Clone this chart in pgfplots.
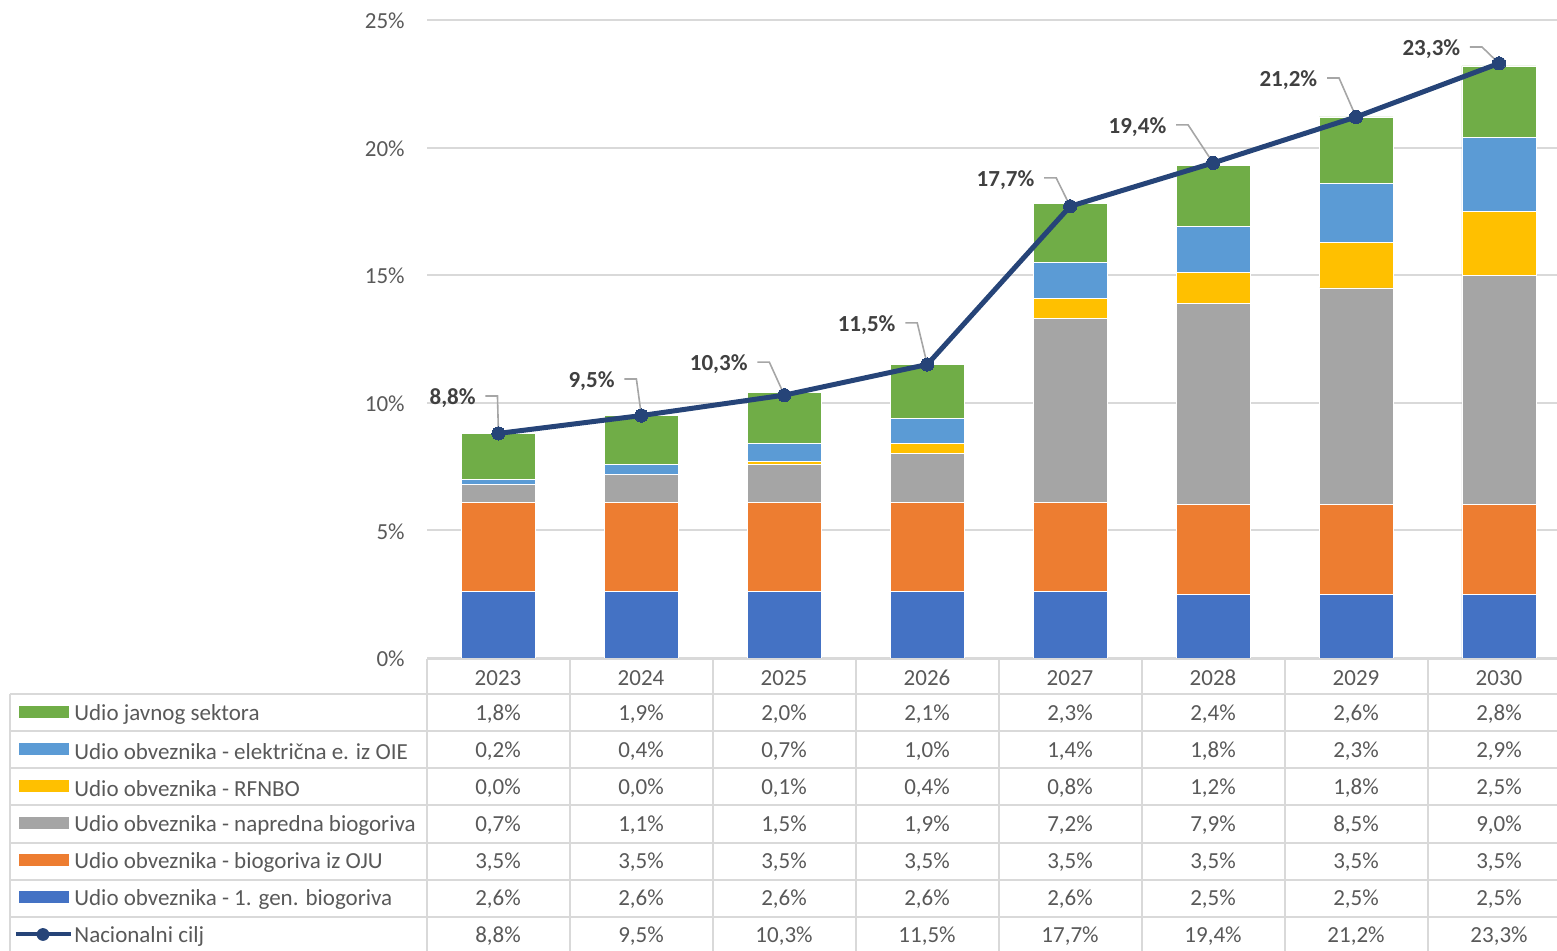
\documentclass[border=0pt]{standalone}
\usepackage{pgfplots}
\usepackage{pgfplotstable}
\pgfplotsset{compat=1.18}
\usepackage{fontspec}
\setmainfont{Carlito}
\definecolor{c1}{HTML}{4472C4}
\definecolor{c2}{HTML}{ED7D31}
\definecolor{c3}{HTML}{A5A5A5}
\definecolor{c4}{HTML}{FFC000}
\definecolor{c5}{HTML}{5B9BD5}
\definecolor{c6}{HTML}{70AD47}
\definecolor{cl}{HTML}{264478}
\definecolor{txt}{HTML}{595959}
\definecolor{lbl}{HTML}{404040}
\definecolor{grd}{HTML}{D9D9D9}
\definecolor{ldr}{HTML}{A6A6A6}

\pgfplotstableread{
x gen oju napr rfnbo oie javni cilj
0 2.6 3.5 0.7 0.0 0.2 1.8 8.8
1 2.6 3.5 1.1 0.0 0.4 1.9 9.5
2 2.6 3.5 1.5 0.1 0.7 2.0 10.3
3 2.6 3.5 1.9 0.4 1.0 2.1 11.5
4 2.6 3.5 7.2 0.8 1.4 2.3 17.7
5 2.5 3.5 7.9 1.2 1.8 2.4 19.4
6 2.5 3.5 8.5 1.8 2.3 2.6 21.2
7 2.5 3.5 9.0 2.5 2.9 2.8 23.3
}\datatable

\newcommand\fs{\fontsize{11.5pt}{13pt}\selectfont}

\pgfplotsset{common/.style={
  scale only axis, width=565pt, height=319pt,
  xmin=-0.5, xmax=7.406, ymin=0, ymax=25,
  at={(0,0)}, anchor=south west,
}}
\tikzset{leader/.style={ldr, line width=0.8pt},
  dl/.style={anchor=east, inner sep=0pt, xshift=-4.5pt, yshift=-1pt, font=\fs\bfseries, text=lbl}}

\begin{document}
\begin{tikzpicture}
\begin{axis}[common, ybar stacked, bar width=37pt,
  axis line style={draw=none}, major tick length=0pt,
  xtick=\empty, ytick={0,5,...,25}, yticklabels={0\%,5\%,10\%,15\%,20\%,25\%},
  yticklabel style={font=\fs, text=txt, inner sep=0pt, xshift=-11pt, yshift=-0.5pt},
  ymajorgrids, grid style={grd, line width=1pt},
]
\addplot[fill=c1, draw=white, line width=0.4pt] table[x=x,y=gen]{\datatable};
\addplot[fill=c2, draw=white, line width=0.4pt] table[x=x,y=oju]{\datatable};
\addplot[fill=c3, draw=white, line width=0.4pt] table[x=x,y=napr]{\datatable};
\addplot[fill=c4, draw=white, line width=0.4pt] table[x=x,y=rfnbo]{\datatable};
\addplot[fill=c5, draw=white, line width=0.4pt] table[x=x,y=oie]{\datatable};
\addplot[fill=c6, draw=white, line width=0.4pt] table[x=x,y=javni]{\datatable};
\draw[leader] (axis cs:0,8.8) -- ++(-0.5pt,18.7pt) -- ++(-6pt,0pt) node[dl] {8,8\%};
\draw[leader] (axis cs:1,9.5) -- ++(-2.5pt,18.3pt) -- ++(-6pt,0pt) node[dl] {9,5\%};
\draw[leader] (axis cs:2,10.3) -- ++(-7.5pt,16.5pt) -- ++(-6pt,0pt) node[dl] {10,3\%};
\draw[leader] (axis cs:3,11.5) -- ++(-5pt,20.8pt) -- ++(-6pt,0pt) node[dl] {11,5\%};
\draw[leader] (axis cs:4,17.7) -- ++(-7pt,14.2pt) -- ++(-6pt,0pt) node[dl] {17,7\%};
\draw[leader] (axis cs:5,19.4) -- ++(-12.5pt,19pt) -- ++(-6pt,0pt) node[dl] {19,4\%};
\draw[leader] (axis cs:6,21.2) -- ++(-8.5pt,19.5pt) -- ++(-6pt,0pt) node[dl] {21,2\%};
\draw[leader] (axis cs:7,23.3) -- ++(-8.5pt,8.2pt) -- ++(-6pt,0pt) node[dl] {23,3\%};
\end{axis}
\begin{axis}[common, axis lines=none, xtick=\empty, ytick=\empty]
\addplot[cl, line width=2.5pt, mark=*, mark size=3.3pt, mark options={fill=cl, draw=cl, line width=0pt}] table[x=x,y=cilj]{\datatable};
\end{axis}
\begin{scope}[x=0.5pt, y=-0.5pt, shift={(-427,-658)}]
  \draw[grd, line width=1pt] (427,659) -- (1557,659);
  \foreach \y in {694,731,768,805.5,843,880,917}
    \draw[grd, line width=1pt] (10,\y) -- (1557,\y);
  \draw[grd, line width=1pt] (10,694) -- (10,951);
  \foreach \x in {427,570,...,1428}
    \draw[grd, line width=1pt] (\x,659) -- (\x,951);
  \foreach \yr [count=\i from 0] in {2023,2024,2025,2026,2027,2028,2029,2030}
    \node[font=\fs, text=txt, inner sep=0pt] at ({498+143*\i},678) {\yr};
  \foreach \col [count=\r from 0] in {javni,oie,rfnbo,napr,oju,gen,cilj} {
    \foreach \i in {0,...,7} {
      \pgfplotstablegetelem{\i}{\col}\of\datatable
      \node[font=\fs, text=txt, inner sep=0pt] at ({498+143*\i},{714.5+37*\r})
        {\pgfmathprintnumber[fixed,fixed zerofill,precision=1,use comma,assume math mode=true]{\pgfplotsretval}\%};
    }
  }
  \foreach \c [count=\r from 0] in {c6,c5,c4,c3,c2,c1}
    \fill[\c] (19,{712.5+37*\r-6}) rectangle (69,{712.5+37*\r+6});
  \draw[cl, line width=2pt] (16,934.5) -- (71,934.5);
  \fill[cl] (43,934.5) circle[radius=3.2pt];
  \foreach \t [count=\r from 0] in {Udio javnog sektora, Udio obveznika - električna e. iz OIE, Udio obveznika - RFNBO, Udio obveznika - napredna biogoriva, Udio obveznika - biogoriva iz OJU, Udio obveznika - 1. gen. biogoriva, Nacionalni cilj}
    \node[font=\fs, text=txt, inner sep=0pt, anchor=west] at (74,{714.5+37*\r}) {\t};
  \pgfresetboundingbox
  \useasboundingbox (0,0) rectangle (1557,951);
\end{scope}
\end{tikzpicture}
\end{document}
